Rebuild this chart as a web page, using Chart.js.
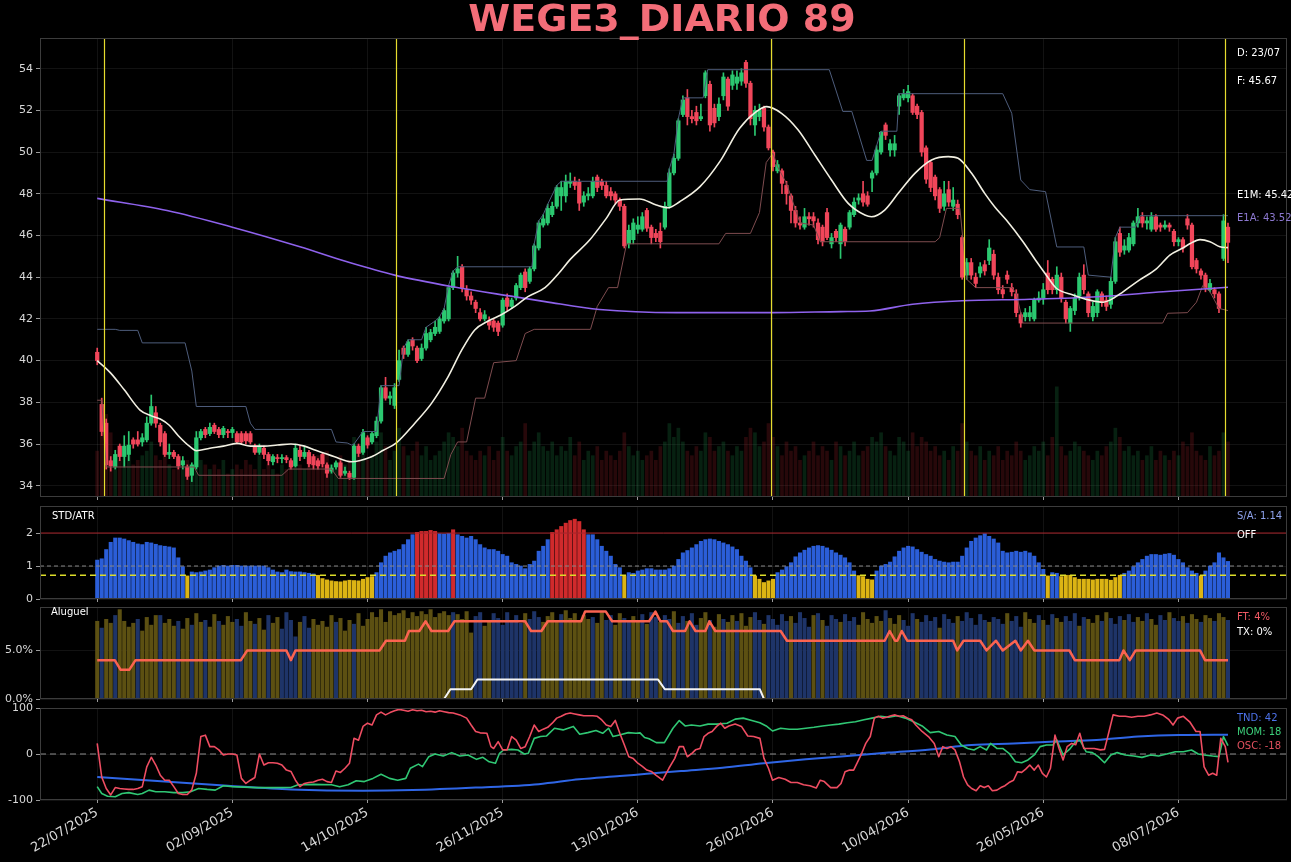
<!DOCTYPE html>
<html>
<head>
<meta charset="utf-8">
<title>WEGE3_DIARIO 89</title>
<script src="https://cdn.jsdelivr.net/npm/chart.js@4.4.1/dist/chart.umd.min.js"></script>
<style>
  html, body { margin: 0; padding: 0; background: #000; }
  #wrap { position: relative; width: 1291px; height: 862px; background: #000; overflow: hidden; }
  #wrap canvas { position: absolute; left: 0; top: 0; }
</style>
</head>
<body>
<div id="wrap"></div>
<script>
// --- DATI ---
const title = 'WEGE3_DIARIO 89';
const lastDate = '23/07';
const tickIdx = [0, 30, 60, 90, 120, 150, 180, 210, 240];
const tickLabels = ['22/07/2025', '02/09/2025', '14/10/2025', '26/11/2025', '13/01/2026', '26/02/2026', '10/04/2026', '26/05/2026', '08/07/2026'];

const opens = [
  40.4,37.9,37.0,35.2,34.9,35.9,35.4,35.5,36.2,36.2, 36.1,36.2,37.0,37.5,36.9,36.5,35.5,35.6,35.4,35.0,
  34.9,34.5,34.9,36.3,36.7,36.5,36.9,36.7,36.45,36.6, 36.55,36.5,36.5,36.5,36.5,35.9,35.6,35.8,35.5,35.15,
  35.35,35.3,35.35,35.2,34.95,35.7,35.4,35.6,35.4,35.2, 35.5,35.0,34.7,34.9,35.1,34.6,34.6,34.4,35.9,35.6,
  36.3,36.1,36.4,37.1,38.7,38.2,37.85,39.1,40.6,40.3, 41.0,40.6,40.1,40.6,41.0,41.3,41.4,41.9,42.0,43.5,
  44.2,44.5,43.4,43.1,42.8,42.3,42.0,41.9,41.9,41.8, 41.7,43.0,42.6,43.0,43.5,44.25,43.8,44.4,45.4,46.5,
  46.6,47.0,47.4,47.9,47.9,48.5,48.6,48.55,47.6,47.9, 47.9,48.8,48.6,48.4,48.1,48.0,47.7,47.4,45.6,45.8,
  46.3,46.3,47.2,46.4,46.1,46.2,46.4,47.4,49.0,49.7, 51.8,52.6,51.7,51.9,51.6,52.7,53.25,52.1,51.7,52.7,
  53.5,53.2,53.3,53.4,54.3,53.3,51.3,51.7,52.1,51.2, 50.0,49.1,49.1,48.4,47.9,47.2,46.6,46.4,46.9,46.9,
  46.6,46.4,47.1,45.6,46.2,45.6,46.3,46.4,47.0,47.7, 48.0,47.9,48.75,49.0,50.0,51.3,50.1,50.1,52.2,52.6,
  52.6,52.7,52.2,51.9,50.2,49.5,48.8,48.2,47.4,48.2, 47.4,47.5,45.9,44.1,44.7,44.0,44.2,44.6,44.8,45.1,
  44.0,43.4,44.1,43.5,43.2,42.2,42.1,42.1,42.0,42.9, 43.0,44.2,43.9,43.4,44.0,42.8,41.8,42.4,43.1,44.1,
  43.2,42.1,42.3,43.2,42.9,42.7,43.8,46.1,45.3,45.3, 45.6,46.6,46.9,46.6,46.3,46.9,46.5,46.4,46.5,46.2,
  45.7,45.8,46.8,46.5,44.8,44.3,44.1,43.4,43.4,43.2, 44.9,46.4
];
const highs = [
  40.6,38.2,37.2,35.4,35.7,36.0,36.4,36.6,36.3,36.6, 36.5,37.3,38.35,37.8,37.0,36.6,36.0,35.7,35.5,35.4,
  35.0,35.1,36.6,36.7,36.8,37.0,37.0,36.8,36.85,36.7, 36.8,36.6,36.6,36.6,36.6,36.0,36.0,35.9,35.6,35.5,
  35.5,35.5,35.45,35.3,36.0,35.9,35.9,35.7,35.5,35.3, 35.6,35.1,35.0,35.2,35.2,34.9,34.7,36.0,36.0,36.7,
  36.4,36.6,37.3,38.8,39.2,38.5,38.9,40.5,40.7,41.0, 41.1,40.7,40.8,41.6,41.5,41.9,42.1,42.5,43.6,44.3,
  45.0,44.6,43.6,43.3,42.9,42.5,42.4,42.1,42.0,41.9, 43.0,43.2,43.0,43.7,44.2,44.4,44.5,45.6,46.7,47.0,
  47.5,47.6,48.4,48.6,48.9,49.0,48.8,48.7,48.1,48.3, 48.8,48.9,48.7,48.6,48.3,48.1,47.8,47.5,46.5,46.8,
  46.9,47.1,47.3,46.5,46.3,46.6,47.6,49.2,49.9,51.6, 52.7,53.0,52.0,52.2,52.3,53.9,53.4,52.3,52.6,53.8,
  53.6,53.9,53.9,54.0,54.4,53.4,52.2,52.3,52.2,51.3, 50.1,49.6,49.2,48.6,48.0,47.4,46.9,47.3,47.1,47.1,
  46.8,46.5,47.3,46.1,46.3,46.6,46.4,47.2,47.8,48.0, 48.6,48.1,49.1,50.3,51.0,51.4,50.6,50.8,52.8,53.0,
  53.2,52.8,52.3,52.0,50.3,49.6,48.9,48.3,48.6,48.6, 48.3,47.7,46.0,44.9,44.9,44.2,44.7,44.8,45.8,45.3,
  44.2,43.6,44.3,43.7,43.4,42.3,42.5,42.6,43.0,43.3, 43.7,44.8,44.0,44.5,44.2,42.9,42.6,43.2,44.2,44.6,
  43.3,42.8,43.4,43.3,43.1,44.0,45.9,46.4,45.8,46.1, 46.7,47.3,47.1,46.9,47.1,47.0,46.6,46.7,46.6,46.3,
  45.9,45.9,47.0,46.6,44.9,44.4,44.2,43.9,43.5,43.3, 47.0,46.6
];
const lows = [
  39.8,36.4,34.8,34.7,34.8,35.2,34.9,35.2,35.8,35.9, 35.9,36.1,36.9,36.8,35.9,35.4,35.3,35.3,34.8,34.8,
  34.3,34.2,34.8,36.2,36.3,36.4,36.5,36.3,36.3,36.3, 36.3,36.0,36.0,36.0,36.0,35.5,35.5,35.3,35.0,35.0,
  35.1,35.1,35.1,34.8,34.9,35.2,35.3,34.9,34.8,34.8, 34.9,34.4,34.6,34.8,34.4,34.5,34.3,34.3,35.4,35.5,
  35.8,36.0,36.3,37.0,38.1,37.9,37.7,39.0,40.1,40.2, 40.5,39.9,40.0,40.5,40.9,41.2,41.3,41.8,41.9,43.4,
  44.0,43.3,42.9,42.7,42.3,41.9,41.9,41.5,41.4,41.2, 41.6,42.4,42.5,42.9,43.4,43.3,43.7,44.3,45.3,46.4,
  46.5,46.9,47.3,47.2,47.6,48.3,48.2,47.2,47.4,47.7, 47.8,48.1,48.2,47.8,47.7,47.5,47.2,45.4,45.4,45.6,
  46.1,46.2,46.2,45.6,45.7,45.4,46.3,47.3,48.9,49.6, 51.7,51.3,51.4,51.3,51.5,52.6,51.0,51.2,51.5,52.5,
  52.0,53.0,53.0,53.2,53.1,51.3,50.8,51.5,51.0,50.1, 49.1,49.0,48.0,47.5,46.6,46.4,46.3,46.3,46.5,46.4,
  45.6,45.5,45.8,45.4,45.7,44.9,45.5,46.3,46.9,47.5, 47.4,47.4,48.1,48.9,49.9,50.6,49.8,49.8,51.8,52.5,
  52.4,51.8,51.6,49.8,48.5,48.1,47.7,47.1,47.2,47.4, 47.2,46.8,43.9,43.9,43.9,43.5,44.0,44.1,44.6,43.9,
  43.2,43.0,43.7,43.1,42.1,41.6,41.9,41.9,41.9,42.8, 42.7,43.2,43.2,43.2,42.8,41.8,41.4,42.2,42.9,43.2,
  42.1,41.9,42.1,42.6,42.4,42.5,43.7,45.0,45.1,45.2, 45.5,46.4,46.4,46.3,46.2,46.2,46.2,46.3,46.2,45.5,
  45.5,45.2,46.3,44.4,44.2,43.9,43.3,43.3,43.0,42.3, 44.8,44.7
];
const closes = [
  40.0,36.6,35.0,34.95,35.5,35.4,35.9,35.95,36.0,36.0, 36.3,37.0,37.8,37.0,36.1,35.5,35.6,35.4,34.95,35.2,
  34.45,35.0,36.3,36.6,36.45,36.8,36.6,36.45,36.75,36.55, 36.7,36.1,36.1,36.15,36.1,35.6,35.9,35.5,35.2,35.4,
  35.3,35.35,35.25,34.9,35.8,35.4,35.6,35.05,35.0,34.95, 35.05,34.6,34.85,35.1,34.5,34.7,34.4,35.9,35.55,36.55,
  35.95,36.5,37.1,38.7,38.2,38.3,38.7,40.0,40.3,40.9, 40.7,40.0,40.6,41.3,41.35,41.6,42.0,42.4,43.5,44.2,
  44.4,43.5,43.1,42.9,42.5,42.0,42.2,41.7,41.6,41.4, 42.9,42.6,42.9,43.6,44.1,43.5,44.4,45.5,46.6,46.8,
  47.3,47.4,48.3,48.3,48.6,48.6,48.4,47.55,47.9,48.0, 48.6,48.3,48.4,47.9,47.9,47.7,47.4,45.5,46.25,46.6,
  46.5,46.9,46.35,45.9,45.9,45.7,47.4,49.0,49.7,51.5, 52.5,51.7,51.6,51.5,51.7,53.8,51.3,51.4,52.3,53.6,
  52.2,53.7,53.6,53.8,53.3,51.6,52.0,52.0,51.2,50.2, 49.3,49.4,48.5,48.0,47.2,46.6,46.5,46.9,46.8,46.7,
  45.8,45.7,45.9,45.9,45.9,46.5,45.7,47.1,47.6,47.8, 47.6,47.5,49.0,50.1,50.95,50.8,50.4,50.4,52.7,52.8,
  52.9,51.9,51.8,50.0,48.7,48.3,47.9,47.3,48.0,47.6, 47.7,47.0,44.0,44.7,44.1,43.7,44.5,44.3,45.4,44.1,
  43.4,43.2,43.9,43.3,42.3,41.8,42.3,42.3,42.9,43.0, 43.4,43.4,43.4,44.1,43.0,42.0,42.5,43.0,44.0,43.4,
  42.3,42.6,43.3,42.8,42.6,43.8,45.7,45.2,45.5,45.9, 46.6,46.9,46.6,46.7,46.9,46.3,46.4,46.5,46.4,45.7,
  45.8,45.4,46.5,44.5,44.4,44.1,43.5,43.7,43.2,42.5, 46.7,45.67
];
// volume (milioni)
const volumes = [
  10,20,18,14,9,8,11,9,7,8,9, 10,12,9,8,10,7,6,9,7,8,7, 12,8,7,6,7,6,8,5,6,7,6, 8,7,6,9,6,7,6,5,7,6,8,
  9,7,6,8,7,9,8,10,7,6,9, 7,8,13,9,11,8,9,12,14,11,8, 10,15,11,9,10,12,9,11,8,9,10, 12,14,13,11,15,10,9,8,10,9,11,
  8,10,13,10,9,11,12,16,10,12,14, 11,10,12,9,11,10,13,9,12,8,10, 9,11,8,10,9,8,10,14,11,9,10, 8,9,10,8,11,12,16,13,15,12,10,
  9,11,10,14,13,10,11,12,10,9,11, 10,13,15,14,11,12,16,13,11,9,12, 10,11,8,9,10,12,9,11,10,8,12, 11,9,10,12,9,10,11,13,12,14,11,
  10,9,13,12,10,14,11,13,12,10,11, 9,10,8,11,10,16,12,10,9,11,8, 10,9,11,8,10,9,12,10,8,9,11, 10,12,9,13,24,11,9,10,12,11,10,
  9,8,10,9,11,12,15,13,10,11,9, 10,8,9,11,8,10,9,8,10,9,12, 11,14,10,9,8,11,9,10,14,12
];

// medie mobili e canali (indice candela, valore)
const e1mX = [0,3,6,9.5,12,14,16,18,20.6,22,25,28,31,34,37,40,43,46,48.5,52.7,56.4,60.9,63.5,66.4,70.5,74.2,77.9,80.9,83.8,86.8,89.7,92.7,95.6,99.4,102.5,104.9,109.3,113,116,120.4,124.1,126.7,129.3,133.8,138.2,142.6,146.3,148.6,151.9,155.6,159.3,163,166.7,170.4,171.9,174.8,177.8,181.5,185.2,188.9,191.1,194.1,197,199.2,201.8,205.5,208.5,211,212.9,216.6,220.3,223.3,224.8,227.7,231.4,235.1,238.1,241,242.5,244.8,247,249.2,251];
const e1mY = [40.0,39.4,38.6,37.63,37.35,37.2,36.9,36.4,35.87,35.68,35.8,35.9,36.03,35.9,35.9,35.95,36.0,35.9,35.7,35.39,35.15,35.39,35.7,36.06,37.0,37.95,39.23,40.5,41.47,41.9,42.2,42.6,43.07,43.5,44.2,44.83,45.78,46.82,47.7,47.75,47.46,47.33,47.62,48.34,49.54,51.14,51.94,52.18,51.86,51.06,49.86,48.66,47.54,46.98,46.9,47.22,48.02,48.98,49.62,49.78,49.7,48.98,48.02,47.38,46.74,45.7,44.75,44.0,43.47,43.15,42.9,42.8,42.9,43.3,43.87,44.4,45.06,45.4,45.6,45.8,45.7,45.46,45.42];
const e1aX = [0,15.5,30,45,56,66,79,92.7,99.4,111.5,128.6,150,165,171.5,181,192,207,222,236.6,251];
const e1aY = [47.78,47.2,46.4,45.46,44.7,44.1,43.54,43.06,42.83,42.45,42.3,42.3,42.35,42.38,42.7,42.87,42.94,43.06,43.3,43.52];
const upX = [0,4,5,9,10,19.5,21,22,33,34,35,52,53,55.5,56.5,57,59,62,63,67,68,69,72,73,75,76,77,78,79,80,96.5,97,98,99,100,102,103,126.5,127,128,129,130,134.5,135.5,162.5,165.5,167.5,170.8,172,173,174,177.5,178,201,203,205,207,210.5,213,219,220,225,226,227,230.5,231.5,251];
const upY = [41.5,41.5,41.45,41.45,40.85,40.85,39.5,37.8,37.8,37.0,36.7,36.7,36.1,36.05,35.95,36.0,36.6,36.6,38.8,38.8,40.6,41.0,41.0,41.6,41.9,42.1,42.5,43.6,44.3,44.5,44.5,45.6,46.7,47.0,47.5,48.4,48.6,48.6,49.2,49.9,51.6,52.6,52.6,53.95,53.95,51.95,51.95,49.6,49.6,50.3,51.0,51.0,52.8,52.8,51.86,48.66,48.2,48.1,45.45,45.45,44.1,44.0,45.9,46.4,46.4,46.95,46.95];
const loX = [0,1,2,21.5,22.5,41,42.5,52,53.5,77,78.5,80,82,84,86,88,93,95,97,109.5,111,113.5,115.5,117.5,138,139.5,145,147,148.5,150,151,153,156,159,160.5,186,187,188.5,191.5,193,195,203,204,205.5,236.5,237.6,242,244,245.4,247,249,251];
const loY = [38.1,38.1,34.9,34.9,34.5,34.5,34.8,34.8,34.35,34.35,35.5,36.1,36.1,38.2,38.2,39.9,40.0,41.3,41.5,41.5,42.6,43.5,43.5,45.6,45.6,46.1,46.1,47.1,49.5,49.95,49.3,48.5,46.6,46.5,45.7,45.7,45.9,47.3,47.3,43.9,43.5,43.5,43.23,41.8,41.8,42.27,42.3,42.8,43.6,43.3,42.5,42.4];
const markIdx = [1.6, 66.3, 149.5, 192.4, 250.3];
const mainTicks = [34, 36, 38, 40, 42, 44, 46, 48, 50, 52, 54];

// STD/ATR
const stdVals = [
  1.18,1.22,1.5,1.72,1.85,1.85,1.82,1.77,1.72,1.67,1.65,1.72,1.7,1.66,1.62,1.6,1.58,1.55,1.25,0.98,0.70,
  0.82,0.8,0.82,0.85,0.88,0.95,1.0,1.02,1.0,1.02,1.02,1.0,1.0,1.0,1.0,1.0,1.0,0.95,0.88,0.82,0.8,0.88,0.83,0.82,0.82,0.8,0.78,
  0.76,
  0.72,0.62,0.58,0.55,0.53,0.52,0.55,0.57,0.56,0.55,0.6,0.65,0.68,
  0.8,1.1,1.3,1.4,1.45,1.5,1.65,1.8,1.95,
  2.02,2.05,2.05,2.08,2.05, 1.98,1.97,1.99, 2.1, 1.95,
  1.9,1.85,1.9,1.8,1.65,1.55,1.5,1.5,1.45,1.35,1.3,1.1,1.05,1.0,0.92,1.05,1.15,1.45,1.6,1.8,
  2.02,2.1,2.2,2.3,2.38,2.42,2.35,2.1,
  1.95,1.95,1.8,1.6,1.45,1.3,1.05,0.95,0.7,0.8,0.78,0.85,0.88,
  0.92,0.92,0.88,0.88,0.88,0.92,1.0,1.2,1.4,1.47,1.55,1.65,1.75,1.8,1.82,1.8,1.75,1.7,1.65,1.58,
  1.5,1.3,1.15,0.95,0.7,0.6,0.5,0.55,0.6,0.8,0.88,0.98,1.1,1.28,1.4,1.48,1.55,1.6,1.62,1.6,
  1.55,1.48,1.4,1.33,1.25,1.1,0.85,0.71,0.68,0.6,0.58,0.85,1.0,1.05,1.12,1.28,1.45,1.55,1.6,1.58,
  1.5,1.42,1.35,1.3,1.2,1.15,1.12,1.1,1.12,1.12,1.3,1.55,1.75,1.85,1.92,1.98,1.9,1.82,1.7,1.45,
  1.4,1.42,1.45,1.42,1.45,1.4,1.3,1.1,0.9,0.7,0.8,0.78,0.68,0.72,0.72,0.65,0.6,0.6,0.6,0.58,
  0.6,0.6,0.6,0.57,0.65,0.72,0.78,0.85,0.98,1.1,1.2,1.3,1.35,1.35,1.33,1.36,1.38,1.33,1.2,1.1,
  0.95,0.85,0.78,0.7,0.85,1.0,1.1,1.4,1.25,1.14
];
const stdHigh = 2, stdMid = 1, stdLow = 0.72;
const stdTicks = [0, 1, 2];

// Aluguel
const alugVals = [
  8.0,7.3,8.2,7.8,8.6,9.2,8.0,7.4,7.8,8.2, 7.0,8.4,7.6,8.6,8.6,7.8,8.2,7.5,8.0,7.2,
  8.3,7.6,8.8,7.9,8.1,7.4,8.7,8.0,7.6,8.5, 7.9,8.2,7.5,8.9,8.0,7.7,8.3,7.1,8.6,7.8,
  8.4,7.2,8.9,8.1,6.4,7.9,8.5,7.3,8.2,7.6, 8.0,7.4,8.6,7.9,8.3,7.0,8.1,7.7,8.8,7.5,
  8.2,8.9,8.4,9.2,7.9,9.0,8.6,8.8,9.1,8.3, 8.9,8.5,9.0,8.7,9.2,8.4,8.8,9.0,8.6,8.9,
  8.7,8.2,9.0,6.8,8.5,8.9,7.5,8.0,8.8,8.3, 7.6,8.9,8.1,8.6,7.8,8.8,8.2,9.0,8.4,7.9,
  8.5,8.9,8.0,8.7,9.1,8.3,8.8,8.1,8.6,8.2, 8.4,7.8,8.9,8.1,8.6,7.6,8.8,8.3,7.9,8.5,
  8.1,8.7,7.7,8.9,8.4,7.9,8.6,8.2,9.0,7.8, 8.5,8.0,8.8,7.6,8.3,8.9,8.1,7.4,8.7,8.2,
  7.9,8.6,8.0,8.8,7.5,8.4,8.9,8.1,7.7,8.6, 8.2,7.6,8.7,8.0,8.5,7.8,8.9,8.3,7.4,8.6,
  8.8,8.1,7.5,8.6,8.2,7.9,8.7,8.0,8.4,7.6, 8.9,8.2,7.8,8.5,8.0,9.1,8.3,7.7,8.6,8.1,
  7.5,8.8,8.2,7.9,8.6,8.0,8.4,7.3,8.7,8.2, 7.8,8.5,8.0,8.9,8.3,7.6,8.7,8.1,7.9,8.4,
  8.2,7.7,8.8,8.0,8.5,7.4,8.9,8.2,7.8,8.6, 8.1,7.6,8.7,8.3,7.9,8.5,8.0,8.8,7.5,8.4,
  8.2,7.8,8.6,8.0,8.9,8.3,7.7,8.5,8.1,8.7, 7.9,8.4,8.0,8.8,8.2,7.6,8.6,8.1,8.9,8.3,
  8.0,8.5,7.8,8.7,8.2,7.9,8.6,8.3,8.0,8.8, 8.4,8.1
];
// o = oliva, b = blu
const alugSide = (
  'obooboooob' + 'oooobooobo' + 'oboobooboo' + 'obbooboobo' + 'obbbbobboo' +
  'oooboooboo' + 'oooooooooo' + 'ooooooooob' + 'oooobboobb' + 'bbbbbobbbo' +
  'oooboooooo' + 'boobboobbo' + 'obobbobbob' + 'bobbooboob' + 'oobooobbob' +
  'bbbbobbbbo' + 'bobbbobbbo' + 'ooooobooob' + 'bbobbbbobb' + 'bobbbbbbob' +
  'bbobbbooob' + 'obboobbbob' + 'ooobobbbob' + 'booboobbob' + 'bobooboobo' + 'ob'
).split('');
const ftX = [0,3.9,5.2,7.1,8.5,31.9,33.3,42,43,44,62.7,64.1,68.3,69.2,71.5,72.9,74.2,77.9,79.3,95,96.3,98.6,100,107.4,108.3,112.9,114.3,122.5,123.9,125,126.5,127.8,130.5,131.5,132.8,135,135.9,137.2,151.7,153.1,174.8,175.9,177.1,177.6,178.6,179.8,190,190.9,192.3,196,197.4,199.5,201,203.8,205,206.6,208,215.8,217,226.9,227.8,229.2,230.5,244.8,245.9,251];
const ftY = [4,4,3,3,4,4,5,5,4,5,5,6,6,7,7,8,7,7,8,8,7,7,8,8,9,9,8,8,9,8,8,7,7,8,7,7,8,7,7,6,6,7,6,6,7,6,6,5,6,6,5,6,5,6,5,6,5,5,4,4,5,4,5,5,4,4];
const txX = [0,77,78.4,83,84.4,124.5,126,147.1,148,251];
const txY = [0,0,1,1,2,2,1,1,0,0];
const alugTicks = [0, 5];

// Oscillatori
const tndX = [0,15,29,43,59,70,84,98,107,116,122,129.6,138.8,148,157.3,166.5,175.7,184.9,194.1,203.4,212.6,221.8,231,240.2,251];
const tndY = [-50,-60,-69,-77,-80,-78.5,-73,-65.5,-55,-48,-43,-37,-30,-20,-11.6,-4.4,3,10,19.6,23,27,30.5,38,41.4,42];
const momX = [0,1,2.3,4,5.5,7,9,10,11.5,13,15,17,19,20.7,22.5,24.4,26.2,28,30,35.4,39,43,44.6,48,52,53.8,55.7,57.5,59.3,61.2,63,64.9,66.7,68.5,69.5,71.3,72.2,73.6,75,76.8,78.7,80.5,82.3,84.2,85.6,87,88.4,89.3,90.2,92,93.4,94.8,95.7,97,98.4,99.7,101.5,103.4,105.7,107.1,108.9,110.7,112.2,113.5,114.5,115.9,117.9,119.6,120.5,121.5,122.5,124.1,125.9,127.8,129.2,130.5,131.9,133.8,135.6,137.5,139.8,141.6,143.4,145.3,147.1,148.5,149.9,151.7,153.6,155.4,157.3,159.1,161,162.8,164.6,166.5,168.3,170.2,172,173.9,175.7,177.5,179.4,181.2,183.1,184.9,186.8,188.6,190.4,191.8,193.2,194.6,196,197.4,198.3,199.7,201,202.4,203.8,205.2,206.6,208,209.3,210.7,212.1,213,214.4,215.8,217.2,218.1,219.5,220.9,222.2,223.6,225,226.4,228.2,230.1,231.9,233.8,235.6,237.4,239.3,241.1,242.9,244.4,245.7,247.6,249,250,251];
const momY = [-71,-86,-92,-93,-86,-84,-88,-86,-78.5,-82,-82,-84,-84,-82,-75,-77,-78.5,-69,-71,-73,-73,-72.8,-67,-66,-67,-71,-67,-58,-60,-53,-44,-53,-57,-53,-31,-22,-27.6,-5.8,0,-4.4,3,-4.4,-2,-11.6,-7.3,-17,-20,1.5,8.7,10,8.7,0,1.5,34,38,39,56,52.4,60,43,46.5,51,45,56,38,41.4,46.5,45,46,36,33,24.7,24.7,56,72.7,61,63,61,65,65,67,75.8,78,72.7,68,61,50,56,53.7,53.7,56,58,61,63,65,68,70,74.5,78,82,80,83,78,70,61,46.5,49,41.4,38,19.6,12,8.7,16,8.7,23,12,12,1.5,-17,-19,-13,-2,16,19.6,19.6,30.5,-2,10,27,30.5,5,3,-5.8,-19,-2,3,-2,-4.4,-7.3,-2,-4.4,0,5,5,8.7,0,-2,-4.4,-5.8,38,18];
const oscX = [0,1,2,3,4,5,6,7,8,9,10,11,12,13,14,15,16,17,18,19,20,21,22,23,24,25,26,27,28,29,30,31,32,33,34,35,36,37,38,39,40,41,42,43,44,45,46,47,48,49,50,51,52,53,54,55,56,57,58,59,60,61,62,63,64,65,66,67,68,69,70,71,72,73,74,75,76,77,78,79,80.5,82,83,84,85,86.5,87.4,88,89,90,91,92,93,94,95,96,97,98,99,100,101,102,103,104,105,106,107,108,110,111,112,113,114,115,116,117,118,119,120,121,122,123,124,125.5,126.9,128.2,129.2,130.1,131,132,132.8,133.8,134.7,135.6,136.5,137.5,138.4,139.3,140.2,141.6,143,144.4,145.7,147.1,148,149,149.9,151.3,152.7,154,155.4,156.8,158.2,159.6,160.5,161.4,162.8,164.2,165.1,166,167,167.9,168.8,169.7,170.6,171.6,172.5,173.4,174.3,175.2,176.2,177.1,178,178.9,179.9,180.8,181.7,183.1,184.5,185.8,186.8,187.7,188.6,189.5,190.4,191.4,192.3,193.2,194.1,195.1,196,196.9,197.8,198.7,199.7,200.6,201.5,202.4,203.4,204.3,205.2,206.1,207,208,208.9,209.8,210.7,211.6,212.6,213.5,214.4,215.3,216.3,217.2,218.1,219,220,221.3,222.7,223.6,224.5,225.5,226.9,228.2,229.6,231,232.4,233.8,235.2,236.5,237.9,238.8,239.8,241.1,242.5,243.9,244.8,245.7,246.7,247.6,248.5,249.4,250.4,251];
const oscY = [23,-50,-75,-89,-73,-75,-76,-77,-77,-75,-71,-28,-7,-24,-46,-57,-57,-71,-86,-88,-88,-78,-42,38,41,16,16,9,-2,0,0,-2,-53,-64,-57,-51,0,-24,-19,-19,-20,-24,-35,-38,-57,-71,-64,-62,-61,-57,-55,-60,-62,-37,-40,-31,-20,34,30,60,67,63,85,91,85,90,94,97,95,93,96,94,95,92,93,91,94,92,90,89,85,78,63,49,46,45,16,12,27,9,9,38,30,12,16,38,63,49,54,58,67,78,82,87,89,87,85,83,83,82,74,63,60,73,45,20,-6,-10,-20,-27,-35,-38,-46,-57,-31,-9.5,16,16,-6,1.5,9,12,38,45,49,60,67,56,61,65,60,39,38,34,-9.5,-31,-57,-51,-55,-62,-62,-67,-69,-74,-57,-60,-73,-73,-64,-38.5,-35,-35,-17,1.5,23,38,78,82,78,80,83,85,82,83,78,74.5,63,49,38,23,-6,16,12,16,9,-17,-50,-67,-75,-80,-69,-73,-69,-80,-78.5,-73,-69,-62,-57,-38.5,-40,-33,-24,-35,-24,-42,-50,-31,41,12,-13,16,23,20,45,12,12,12,9,10,45,85,82,82,80,82,82,85,89,85,74.5,63,78,82,70,49,49,-28,-46,-42,-46,34,16,-18];
const oscTicks = [-100, 0, 100];

// --- LAYOUT ---
const W = 1291, H = 862;
const xMin = -12.7, xMax = 264.1;
const FONT = "'DejaVu Sans', sans-serif";
const GREEN = '#2bc870', RED = '#f0465a';

function pts(xs, ys) { return xs.map((x, i) => ({ x: x, y: ys[i] })); }
function hline(v) { return [{ x: xMin, y: v }, { x: xMax, y: v }]; }
function isUp(i) { return closes[i] >= opens[i]; }

function makeCanvas() {
  const c = document.createElement('canvas');
  c.width = W; c.height = H;
  document.getElementById('wrap').appendChild(c);
  return c;
}

function xScale(showLabels) {
  return {
    type: 'linear', min: xMin, max: xMax, offset: false,
    afterBuildTicks: s => { s.ticks = tickIdx.map(v => ({ value: v })); },
    afterFit: s => { s.height = showLabels ? 62 : 3; },
    grid: { color: 'rgba(255,255,255,0.07)', tickColor: '#9a9a9a', tickLength: 3, offset: false },
    border: { display: false },
    ticks: {
      display: showLabels, autoSkip: false, maxRotation: 30, minRotation: 30, padding: 2,
      color: '#d8d8d8', font: { family: FONT, size: 13 },
      callback: v => tickLabels[tickIdx.indexOf(v)]
    }
  };
}

function yScale(min, max, ticks, fmt) {
  return {
    type: 'linear', position: 'left', min: min, max: max,
    afterBuildTicks: s => { s.ticks = ticks.map(v => ({ value: v })); },
    afterFit: s => { s.width = 40; },
    grid: { color: 'rgba(255,255,255,0.07)', tickColor: '#9a9a9a', tickLength: 4 },
    border: { display: false },
    ticks: { color: '#d8d8d8', font: { family: FONT, size: 11 }, padding: 3, callback: fmt || (v => v) }
  };
}

// bordo dei pannelli
const framePlugin = {
  id: 'frame',
  afterDraw(chart) {
    const a = chart.chartArea, ctx = chart.ctx;
    ctx.save();
    ctx.strokeStyle = '#3c3c3c'; ctx.lineWidth = 1;
    ctx.strokeRect(Math.round(a.left) + 0.5, Math.round(a.top) + 0.5, Math.round(a.right - a.left) - 1, Math.round(a.bottom - a.top) - 1);
    ctx.restore();
  }
};

function notesPlugin(items) {
  return {
    id: 'notes',
    afterDraw(chart) {
      const ctx = chart.ctx;
      ctx.save();
      items.forEach(n => {
        ctx.font = n.font || ('10px ' + FONT);
        ctx.fillStyle = n.c;
        ctx.textAlign = n.align || 'left';
        ctx.textBaseline = n.base || 'middle';
        ctx.fillText(n.t, n.x, n.y);
      });
      ctx.restore();
    }
  };
}

// linee verticali gialle
const markPlugin = {
  id: 'marks',
  afterDatasetsDraw(chart) {
    const a = chart.chartArea, ctx = chart.ctx, sx = chart.scales.x;
    ctx.save();
    ctx.strokeStyle = '#e6dc2e'; ctx.lineWidth = 1.2;
    markIdx.forEach(v => {
      const px = Math.round(sx.getPixelForValue(v)) + 0.5;
      ctx.beginPath(); ctx.moveTo(px, a.top); ctx.lineTo(px, a.bottom); ctx.stroke();
    });
    ctx.restore();
  }
};

const baseOpts = {
  responsive: false, animation: false, devicePixelRatio: 1,
  plugins: { legend: { display: false }, tooltip: { enabled: false } },
  elements: { point: { radius: 0 } }
};

function lineDs(data, color, width, order, extra) {
  return Object.assign({ type: 'line', data: data, borderColor: color, borderWidth: width, pointRadius: 0, fill: false, order: order, borderJoinStyle: 'round' }, extra || {});
}

// --- GRAFICO PRINCIPALE ---
new Chart(makeCanvas(), {
  type: 'bar',
  data: {
    datasets: [
      { type: 'bar', yAxisID: 'yv', data: volumes.map((v, i) => ({ x: i, y: v })), grouped: false, barThickness: 3, order: 10,
        backgroundColor: volumes.map((v, i) => isUp(i) ? 'rgba(30,140,70,0.24)' : 'rgba(150,30,40,0.26)') },
      { type: 'bar', data: lows.map((l, i) => ({ x: i, y: [l, highs[i]] })), grouped: false, barThickness: 1, order: 5,
        backgroundColor: lows.map((l, i) => isUp(i) ? GREEN : RED) },
      { type: 'bar', data: opens.map((o, i) => ({ x: i, y: [o, closes[i]] })), grouped: false, barThickness: 3.6, minBarLength: 1, order: 4,
        backgroundColor: opens.map((o, i) => isUp(i) ? GREEN : RED) },
      lineDs(pts(upX, upY), '#4e5d7c', 1, 3),
      lineDs(pts(loX, loY), '#7e4c4f', 1, 3),
      lineDs(pts(e1aX, e1aY), '#8e62ec', 1.6, 2, { cubicInterpolationMode: 'monotone' }),
      lineDs(pts(e1mX, e1mY), '#f2f0e2', 1.6, 1, { cubicInterpolationMode: 'monotone' })
    ]
  },
  options: Object.assign({}, baseOpts, {
    layout: { padding: { top: 38, bottom: H - 497 - 3, left: 0, right: 4 } },
    scales: {
      x: xScale(false),
      y: yScale(33.46, 55.47, mainTicks),
      yv: { display: false, min: 0, max: 100 }
    }
  }),
  plugins: [framePlugin, markPlugin, notesPlugin([
    { t: title, x: 662, y: 31, c: '#f36d78', font: 'bold 38px ' + FONT, align: 'center', base: 'alphabetic' },
    { t: 'D: ' + lastDate, x: 1237, y: 53, c: '#ffffff' },
    { t: 'F: ' + closes[closes.length - 1].toFixed(2), x: 1237, y: 81, c: '#ffffff' },
    { t: 'E1M: ' + e1mY[e1mY.length - 1].toFixed(2), x: 1237, y: 195, c: '#ffffff' },
    { t: 'E1A: ' + e1aY[e1aY.length - 1].toFixed(2), x: 1237, y: 218, c: '#8c78d0' }
  ])]
});

// --- STD/ATR ---
new Chart(makeCanvas(), {
  type: 'bar',
  data: {
    datasets: [
      { type: 'bar', data: stdVals.map((v, i) => ({ x: i, y: v })), grouped: false, barThickness: 3.4, order: 5,
        backgroundColor: stdVals.map(v => v >= stdHigh ? '#d02a2c' : (v <= stdLow ? '#dcb414' : '#2b5ed8')) },
      lineDs(hline(stdHigh), '#a8232a', 1, 2),
      lineDs(hline(stdMid), '#8a8a8a', 1, 2, { borderDash: [4, 3] }),
      lineDs(hline(stdLow), '#dede2a', 1.5, 1, { borderDash: [6, 4] })
    ]
  },
  options: Object.assign({}, baseOpts, {
    layout: { padding: { top: 506, bottom: H - 599 - 3, left: 0, right: 4 } },
    scales: { x: xScale(false), y: yScale(0, 2.82, stdTicks) }
  }),
  plugins: [framePlugin, notesPlugin([
    { t: 'STD/ATR', x: 52, y: 516, c: '#ffffff' },
    { t: 'S/A: ' + stdVals[stdVals.length - 1].toFixed(2), x: 1237, y: 516, c: '#8ea2ec' },
    { t: 'OFF', x: 1237, y: 535, c: '#ffffff' }
  ])]
});

// --- ALUGUEL ---
new Chart(makeCanvas(), {
  type: 'bar',
  data: {
    datasets: [
      { type: 'bar', data: alugVals.map((v, i) => ({ x: i, y: v })), grouped: false, barThickness: 3.4, order: 5,
        backgroundColor: alugSide.map(s => s === 'o' ? '#5c5012' : '#1e3468') },
      lineDs(pts(ftX, ftY), '#fb6350', 2.5, 2),
      lineDs(pts(txX, txY), '#f4f4f4', 2, 1)
    ]
  },
  options: Object.assign({}, baseOpts, {
    layout: { padding: { top: 607, bottom: H - 699 - 3, left: 0, right: 4 } },
    scales: { x: xScale(false), y: yScale(0, 9.47, alugTicks, v => v.toFixed(1) + '%') }
  }),
  plugins: [framePlugin, notesPlugin([
    { t: 'Aluguel', x: 51, y: 612, c: '#ffffff' },
    { t: 'FT: ' + ftY[ftY.length - 1] + '%', x: 1237, y: 617, c: '#f05a64' },
    { t: 'TX: ' + txY[txY.length - 1] + '%', x: 1237, y: 632, c: '#ffffff' }
  ])]
});

// --- OSCILLATORI ---
new Chart(makeCanvas(), {
  type: 'line',
  data: {
    datasets: [
      lineDs(hline(0), '#8c8c8c', 1, 4, { borderDash: [6, 4] }),
      lineDs(pts(tndX, tndY), '#2f66e6', 2, 3, { cubicInterpolationMode: 'monotone' }),
      lineDs(pts(momX, momY), '#30c774', 1.6, 2),
      lineDs(pts(oscX, oscY), '#ef4d62', 1.6, 1)
    ]
  },
  options: Object.assign({}, baseOpts, {
    layout: { padding: { top: 708, bottom: 0, left: 0, right: 4 } },
    scales: { x: xScale(true), y: yScale(-100, 100, oscTicks) }
  }),
  plugins: [framePlugin, notesPlugin([
    { t: 'TND: ' + tndY[tndY.length - 1], x: 1237, y: 718, c: '#4d72ea' },
    { t: 'MOM: ' + momY[momY.length - 1], x: 1237, y: 732, c: '#3ccf7a' },
    { t: 'OSC: ' + oscY[oscY.length - 1], x: 1237, y: 746, c: '#e0505e' }
  ])]
});
</script>
</body>
</html>
